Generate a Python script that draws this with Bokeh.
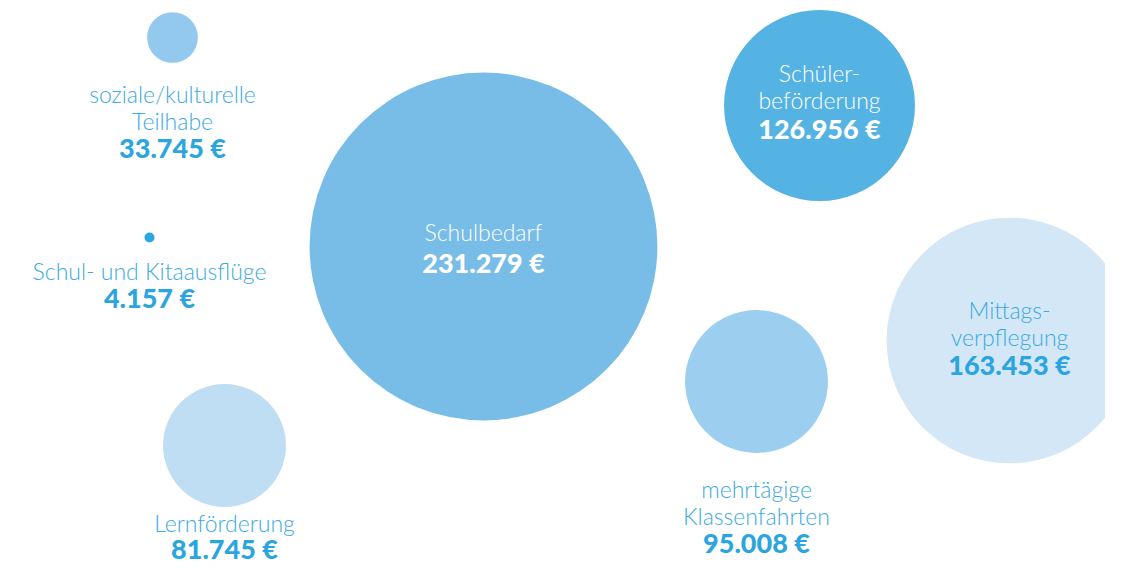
from bokeh.plotting import figure
from bokeh.models import ColumnDataSource, Range1d
from bokeh.core.properties import value
from bokeh.embed import file_html
from bokeh.resources import INLINE

# ---- data ----
categories = ["soziale/kulturelle Teilhabe", "Schul- und Kitaausflüge", "Schulbedarf",
              "Schülerbeförderung", "Mittagsverpflegung", "mehrtägige Klassenfahrten",
              "Lernförderung"]
amounts = [33745, 4157, 231279, 126956, 163453, 95008, 81745]
label_lines = [["soziale/kulturelle", "Teilhabe"], ["Schul- und Kitaausflüge"], ["Schulbedarf"],
               ["Schüler-", "beförderung"], ["Mittags-", "verpflegung"],
               ["mehrtägige", "Klassenfahrten"], ["Lernförderung"]]

# ---- layout (pixel-like coordinates, y downward) ----
pos_x = [172, 149, 483, 819, 1009, 756, 224]
pos_y = [37, 237, 246, 105, 340, 381, 445]
label_x = [172, 149, 483, 819, 1009, 756, 224]
label_y0 = [93, 270, 231, 72, 309, 488, 522]
value_y = [147, 297, 262, 128, 364, 542, 548]
line_gap = 27

# ---- styles ----
fill_colors = ["#93c9ee", "#2aa6e0", "#78bde8", "#55b3e4", "#d3e7f6", "#9ccef0", "#bfdef4"]
label_colors = ["#3aaae2", "#3aaae2", "#ffffff", "#ffffff", "#3aaae2", "#3aaae2", "#3aaae2"]
value_colors = ["#2aa5e0", "#2aa5e0", "#ffffff", "#ffffff", "#2aa5e0", "#2aa5e0", "#2aa5e0"]
scale = 7.52e-4
min_r = 5

radii = [max(a * scale, min_r) for a in amounts]
value_txt = [f"{a:,}".replace(",", ".") + " €" for a in amounts]

p = figure(width=1105, height=564, output_backend="svg", toolbar_location=None,
           x_range=Range1d(0, 1105), y_range=Range1d(564, 0), min_border=0)
p.axis.visible = False
p.grid.visible = False
p.outline_line_color = None
p.background_fill_color = "white"

circ = ColumnDataSource(dict(x=pos_x, y=pos_y, r=radii, c=fill_colors))
p.circle(x="x", y="y", radius="r", fill_color="c", line_color=None, source=circ)

lx, ly, lt, lc = [], [], [], []
for i, lines in enumerate(label_lines):
    for j, t in enumerate(lines):
        lx.append(label_x[i]); ly.append(label_y0[i] + j * line_gap)
        lt.append(t); lc.append(label_colors[i])
p.text(x="x", y="y", text="t", text_color="c",
       source=ColumnDataSource(dict(x=lx, y=ly, t=lt, c=lc)),
       text_font=value("Lato Light"), text_font_size="23px",
       text_align="center", text_baseline="middle")

p.text(x="x", y="y", text="t", text_color="c",
       source=ColumnDataSource(dict(x=label_x, y=value_y, t=value_txt, c=value_colors)),
       text_font=value("Lato Black"), text_font_size="27px",
       text_align="center", text_baseline="middle")

open("out.html", "w").write(file_html(p, INLINE))
